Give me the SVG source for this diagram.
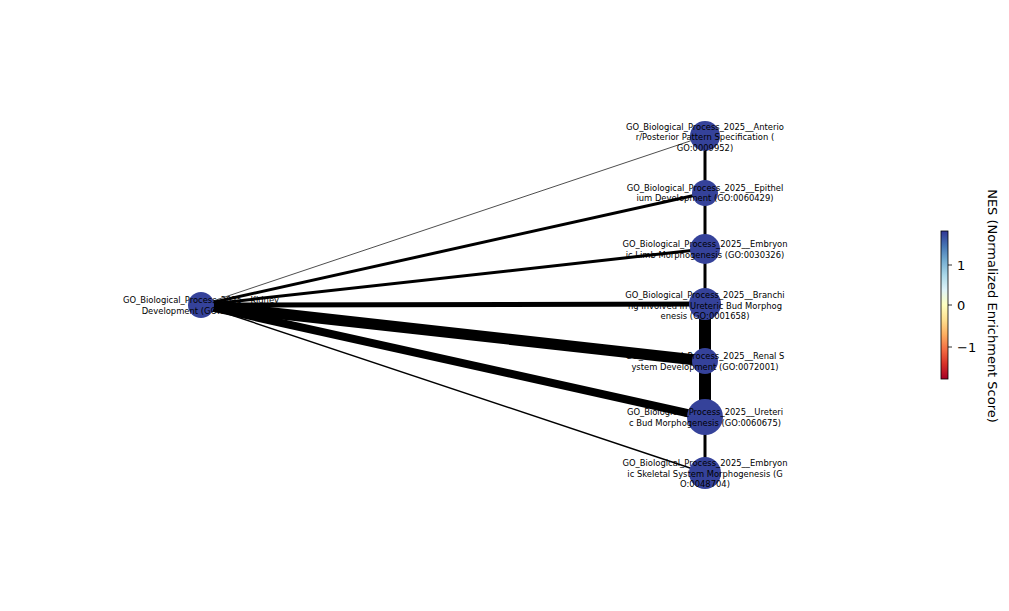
<svg xmlns="http://www.w3.org/2000/svg" width="1009" height="611" viewBox="0 0 1009 611">
<style>
.n{fill:#35429a}
.t{font-family:"DejaVu Sans",sans-serif;font-size:8.4px;fill:#000;text-anchor:middle}
.e{stroke:#000;fill:none}
.tk{font-family:"DejaVu Sans",sans-serif;font-size:13px;fill:#000}
</style>
<defs>
<linearGradient id="g" x1="0" y1="1" x2="0" y2="0">
<stop offset="0" stop-color="#a50026"/><stop offset="0.1" stop-color="#d73027"/><stop offset="0.2" stop-color="#f46d43"/><stop offset="0.3" stop-color="#fdae61"/><stop offset="0.4" stop-color="#fee090"/><stop offset="0.5" stop-color="#ffffbf"/><stop offset="0.6" stop-color="#e0f3f8"/><stop offset="0.7" stop-color="#abd9e9"/><stop offset="0.8" stop-color="#74add1"/><stop offset="0.9" stop-color="#4575b4"/><stop offset="1" stop-color="#313695"/>
</linearGradient>
</defs>
<rect width="1009" height="611" fill="#fff"/>
<g id="connectors">
<line class="e" x1="201" y1="305" x2="705" y2="136" stroke-width="0.7"/>
<line class="e" x1="201" y1="305" x2="705" y2="193" stroke-width="3"/>
<line class="e" x1="201" y1="305" x2="705" y2="249" stroke-width="3"/>
<line class="e" x1="201" y1="305" x2="705" y2="304" stroke-width="5"/>
<line class="e" x1="201" y1="305" x2="705" y2="361" stroke-width="11"/>
<line class="e" x1="201" y1="305" x2="705" y2="417" stroke-width="8"/>
<line class="e" x1="201" y1="305" x2="705" y2="473" stroke-width="1.5"/>
<line class="e" x1="705" y1="136" x2="705" y2="193" stroke-width="3"/>
<line class="e" x1="705" y1="193" x2="705" y2="249" stroke-width="3"/>
<line class="e" x1="705" y1="249" x2="705" y2="304" stroke-width="3"/>
<line class="e" x1="705" y1="304" x2="705" y2="361" stroke-width="12"/>
<line class="e" x1="705" y1="361" x2="705" y2="417" stroke-width="12"/>
<line class="e" x1="705" y1="417" x2="705" y2="473" stroke-width="3"/>
</g>
<g id="n0"><circle class="n" cx="201" cy="305" r="13"/><text class="t" x="201" y="303">GO_Biological_Process_2025__Kidney</text><text class="t" x="201" y="314">Development (GO:0001822)</text></g>
<g id="n1"><circle class="n" cx="705" cy="136" r="15"/><text class="t" x="705" y="130">GO_Biological_Process_2025__Anterio</text><text class="t" x="705" y="140">r/Posterior Pattern Specification (</text><text class="t" x="705" y="151">GO:0009952)</text></g>
<g id="n2"><circle class="n" cx="705" cy="193" r="13"/><text class="t" x="705" y="191">GO_Biological_Process_2025__Epithel</text><text class="t" x="705" y="201">ium Development (GO:0060429)</text></g>
<g id="n3"><circle class="n" cx="705" cy="249" r="15"/><text class="t" x="705" y="247">GO_Biological_Process_2025__Embryon</text><text class="t" x="705" y="258">ic Limb Morphogenesis (GO:0030326)</text></g>
<g id="n4"><circle class="n" cx="705" cy="304" r="16"/><text class="t" x="705" y="298">GO_Biological_Process_2025__Branchi</text><text class="t" x="705" y="309">ng Involved In Ureteric Bud Morphog</text><text class="t" x="705" y="319">enesis (GO:0001658)</text></g>
<g id="n5"><circle class="n" cx="705" cy="361" r="13"/><text class="t" x="705" y="359">GO_Biological_Process_2025__Renal S</text><text class="t" x="705" y="370">ystem Development (GO:0072001)</text></g>
<g id="n6"><circle class="n" cx="705" cy="417" r="18"/><text class="t" x="705" y="415">GO_Biological_Process_2025__Ureteri</text><text class="t" x="705" y="426">c Bud Morphogenesis (GO:0060675)</text></g>
<g id="n7"><circle class="n" cx="705" cy="473" r="16"/><text class="t" x="705" y="466">GO_Biological_Process_2025__Embryon</text><text class="t" x="705" y="477">ic Skeletal System Morphogenesis (G</text><text class="t" x="705" y="487">O:0048704)</text></g>
<g id="colorbar">
<rect x="941" y="231" width="7" height="148" fill="url(#g)" stroke="#000" stroke-width="0.8"/>
<g stroke="#000" stroke-width="0.8"><line x1="948" y1="265" x2="952" y2="265"/><line x1="948" y1="305" x2="952" y2="305"/><line x1="948" y1="347" x2="952" y2="347"/></g>
<text class="tk" x="957" y="270">1</text><text class="tk" x="957" y="310">0</text><text class="tk" x="957" y="352">−1</text>
<text class="tk" transform="translate(988,306) rotate(90)" text-anchor="middle">NES (Normalized Enrichment Score)</text>
</g>
</svg>
